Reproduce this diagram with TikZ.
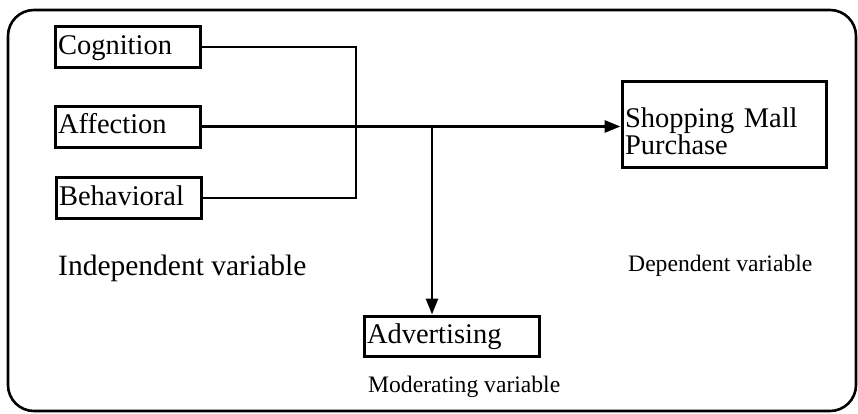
\documentclass[tikz,border=0pt]{standalone}
\usepackage{fontspec}
\setmainfont{Liberation Serif}
\usetikzlibrary{arrows.meta}

\tikzset{
  varbox/.style={draw, line width=3pt, inner sep=3pt, align=left,
    minimum height=#1, font=\fontsize{28.5}{27}\selectfont,
    text height=20pt, text depth=6pt},
  varbox/.default=41pt,
  wire/.style={line width=2.8pt},
  arrowwire/.style={wire, -{Triangle[length=16pt,width=12pt]}},
  caption/.style={anchor=base west, inner sep=0pt},
}

\begin{document}
\begin{tikzpicture}[x=1pt, y=-1pt]
  \useasboundingbox (0,0) rectangle (858,413);

  % outer frame
  \draw[line width=2.6pt, rounded corners=26pt] (8,10) rectangle (856,411);

  % independent variables
  \node[varbox, text width=139pt] (cog) at (127.5,47) {Cognition};
  \node[varbox, text width=139pt] (aff) at (127.5,126.5) {Affection};
  \node[varbox, text width=139pt] (beh) at (128.5,198) {Behavioral};

  % dependent and moderating variables
  \node[varbox=86pt, text width=198pt, text height=, text depth=] (shop) at (724,124)
        {\rule{0pt}{34pt}Shopping Mall\\Purchase};
  \node[varbox=40pt, text width=169pt] (adv) at (451.5,336) {Advertising};

  % bracket joining cognition and behavioral
  \coordinate (m) at (356,0);
  \draw[wire] (cog.east) -- (cog.east -| m) -- (beh.east -| m) -- (beh.east);

  % main path to the dependent variable
  \draw[arrowwire] (aff.east) -- (aff.east -| shop.west);

  % branch down to the moderating variable
  \coordinate (j) at (432,126.5);
  \draw[arrowwire] (j) -- (j |- adv.north);

  % captions
  \node[caption, font=\fontsize{29.5}{30}\selectfont] (indcap) at (58,275) {Independent variable};
  \node[caption, font=\fontsize{23.6}{25}\selectfont] (depcap) at (628,271) {Dependent variable};
  \node[caption, font=\fontsize{23.6}{25}\selectfont] (modcap) at (368,392) {Moderating variable};
\end{tikzpicture}
\end{document}
